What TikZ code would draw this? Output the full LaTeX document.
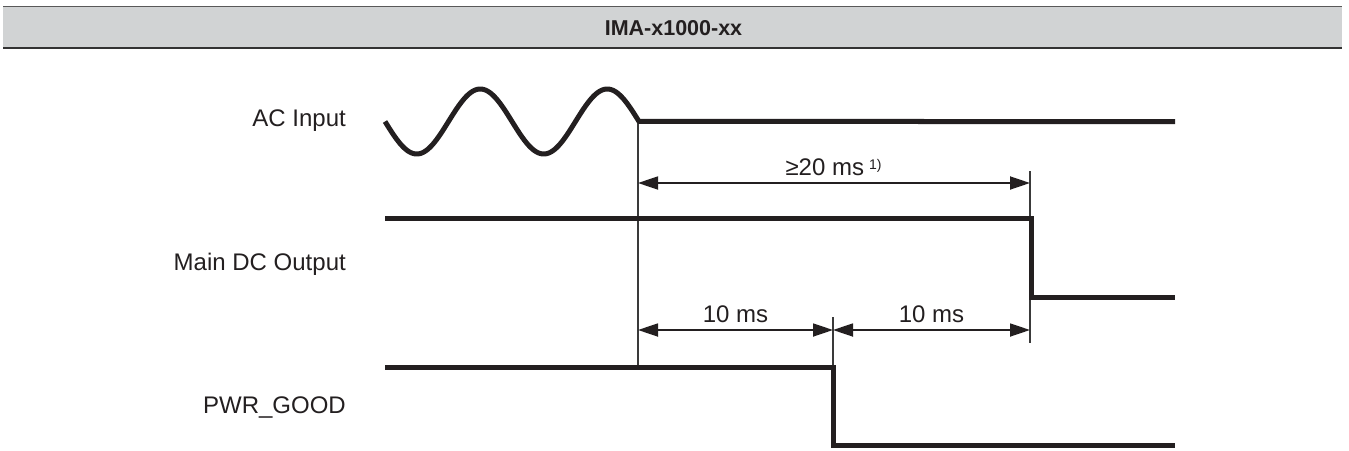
\documentclass[tikz,border=0pt]{standalone}
\usepackage{fontspec}
\setmainfont{Liberation Sans}
\usetikzlibrary{arrows.meta}
\definecolor{ink}{HTML}{231F20}
\definecolor{hdr}{HTML}{D1D3D4}
\definecolor{thin}{HTML}{3A3A3A}
\tikzset{
  signal/.style={draw=ink, line width=5pt},
  marker/.style={draw=thin, line width=1.4pt},
  dim/.style={draw=ink, line width=1.8pt, {Triangle[length=20pt,width=13pt]}-{Triangle[length=20pt,width=13pt]}},
  lbl/.style={inner sep=0pt, text=ink, font=\fontsize{24}{28}\selectfont},
}
\begin{document}
\begin{tikzpicture}[x=1pt,y=-1pt]
\useasboundingbox (0,0) rectangle (1349,450);
% header
\fill[hdr] (3,6) rectangle (1342,48);
\draw[draw=black!65, line width=1.5pt] (3,6.5) -- (1342,6.5);
\draw[draw=black!80, line width=2pt] (3,48) -- (1342,48);
\node[inner sep=0pt, anchor=base, text=ink, font=\fontsize{21.5}{25}\selectfont\bfseries] (title) at (673.5,35) {IMA-x1000-xx};
% labels
\node[lbl, anchor=base east] (lac) at (346,126) {AC Input};
\node[lbl, anchor=base east] (ldc) at (346,270) {Main DC Output};
\node[lbl, anchor=base east] (lpg) at (346,413) {PWR\_GOOD};
% coordinates
\coordinate (acR) at (1175,121.5);
\coordinate (dcL) at (385,218);
\coordinate (dcK) at (1031,218);
\coordinate (dcD) at (1031,297);
\coordinate (dcR) at (1175,297);
\coordinate (pgL) at (385,367);
\coordinate (pgK) at (833,367);
\coordinate (pgD) at (833,445);
\coordinate (pgR) at (1175,445);
\coordinate (m1t) at (638,121.5);
\coordinate (m1b) at (638,367);
\coordinate (m2t) at (1030,171);
\coordinate (m2b) at (1030,343);
\coordinate (m3t) at (833,317);
\coordinate (m3b) at (833,367);
\coordinate (a1L) at (638,183);
\coordinate (a1R) at (1030,183);
\coordinate (a2L) at (638,330);
\coordinate (a2M) at (833,330);
\coordinate (a2R) at (1030,330);
% markers
\draw[marker] (m1t) -- (m1b);
\draw[marker] (m2t) -- (m2b);
\draw[marker] (m3t) -- (m3b);
% signals
\draw[signal, line join=round] plot[domain=0:254, samples=200] ({385+\x},{121.5+32.5*sin(2.834646*\x)}) -- (acR);
\draw[signal] (dcL) -- (dcK) -- (dcD) -- (dcR);
\draw[signal] (pgL) -- (pgK) -- (pgD) -- (pgR);
% dimensions
\draw[dim] (a1L) -- (a1R);
\draw[dim] (a2L) -- (a2M);
\draw[dim] (a2M) -- (a2R);
\node[lbl, anchor=base] (t20) at (833.5,175) {≥20 ms\hspace{5pt}\raisebox{6pt}{\fontsize{14}{16}\selectfont 1)}};
\node[lbl, anchor=base] (t10a) at (735.5,322) {10 ms};
\node[lbl, anchor=base] (t10b) at (931.5,322) {10 ms};
\end{tikzpicture}
\end{document}
